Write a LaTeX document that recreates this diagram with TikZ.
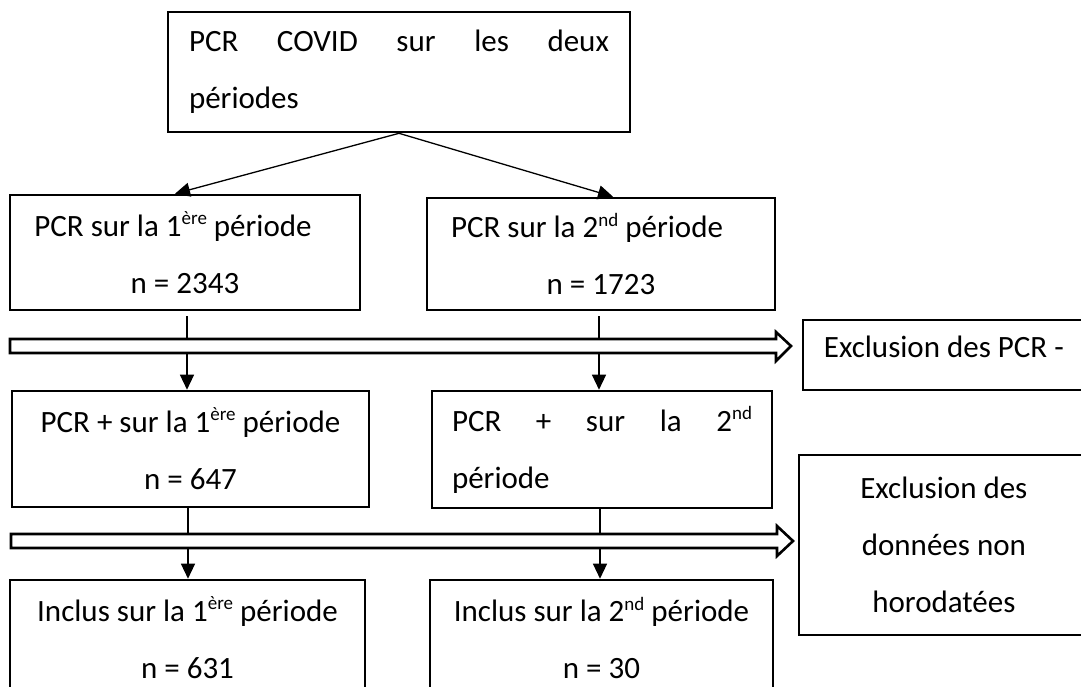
\documentclass[tikz,border=0pt]{standalone}
\usepackage{fontspec}
\setmainfont{Carlito}
\usetikzlibrary{arrows.meta,calc}
\newcommand\sups[1]{\raisebox{0.8ex}{\fontsize{19}{19}\selectfont #1}}
\begin{document}
\begin{tikzpicture}[x=1pt,y=-1pt,
  every node/.style={execute at begin node={\spaceskip=0pt\xspaceskip=0pt\relax}},
  box/.style={draw, line width=2.6pt, rectangle, inner sep=0pt, font=\fontsize{31}{57}\selectfont, align=center},
  exbox/.style={draw, line width=1.8pt, rectangle, inner ysep=0pt, font=\fontsize{31}{57}\selectfont},
  conn/.style={line width=1.3pt, -{Triangle[width=14pt,length=15pt]}},
  hollow/.style={draw, line width=2.6pt, fill=white, line join=miter}]
\useasboundingbox (0,0) rectangle (1081,686);
\clip (0,0) rectangle (1081,686);

% boxes
\node[box, minimum width=462pt, minimum height=120pt] (top) at (399,72)
  {\hbox to 420pt{PCR\hfill COVID\hfill sur\hfill les\hfill deux}\\\hbox to 420pt{périodes\hfill}};
\node[box, minimum width=350pt, minimum height=115pt] (b1) at (185,252.5)
  {PCR sur la 1\sups{ère} période\hspace*{24pt}\\n = 2343};
\node[box, minimum width=348pt, minimum height=112pt] (b2) at (601,254)
  {PCR sur la 2\sups{nd} période\hspace*{28pt}\\n = 1723};
\node[box, minimum width=357pt, minimum height=116pt] (b3) at (190.5,449)
  {PCR + sur la 1\sups{ère} période\\n = 647};
\node[box, minimum width=340pt, minimum height=117pt] (b4) at (602,449.5)
  {\hbox to 300pt{PCR\hfill+\hfill sur\hfill la\hfill 2\sups{nd}}\\\hbox to 300pt{période\hfill}};
\node[box, minimum width=355pt, minimum height=116pt] (b5) at (187.5,638)
  {Inclus sur la 1\sups{ère} période\\n = 631};
\node[box, minimum width=343pt, minimum height=116pt] (b6) at (601.5,638)
  {Inclus sur la 2\sups{nd} période\\n = 30};
\node[exbox, text width=250pt, align=left, inner xsep=21pt, minimum height=70pt, text depth=16pt, anchor=west] (ex1) at (802,355)
  {Exclusion des PCR -};
\node[exbox, minimum width=290pt, minimum height=180pt, align=center, anchor=west] (ex2) at (798,545)
  {Exclusion des\\données non\\horodatées};

% columns
\coordinate (cL1) at (187,0);
\coordinate (cR1) at (599,0);
\coordinate (cL2) at (188,0);
\coordinate (cR2) at (600,0);

% connectors
\draw[conn] (top.south) -- ([xshift=-10pt]b1.north);
\draw[conn] (top.south) -- ([xshift=12pt]b2.north);
\draw[conn, shorten <=5pt] (b1.south -| cL1) -- (b3.north -| cL1);
\draw[conn, shorten <=5pt] (b2.south -| cR1) -- (b4.north -| cR1);
\draw[conn] (b3.south -| cL2) -- (b5.north -| cL2);
\draw[conn] (b4.south -| cR2) -- (b6.north -| cR2);

% hollow exclusion arrows
\draw[hollow] (10,339) -- (776,339) -- (776,332) -- (791,346) -- (776,361) -- (776,353) -- (10,353) -- cycle;
\draw[hollow] (11,534) -- (777,534) -- (777,526) -- (793,541) -- (777,556) -- (777,548) -- (11,548) -- cycle;
\end{tikzpicture}
\end{document}
